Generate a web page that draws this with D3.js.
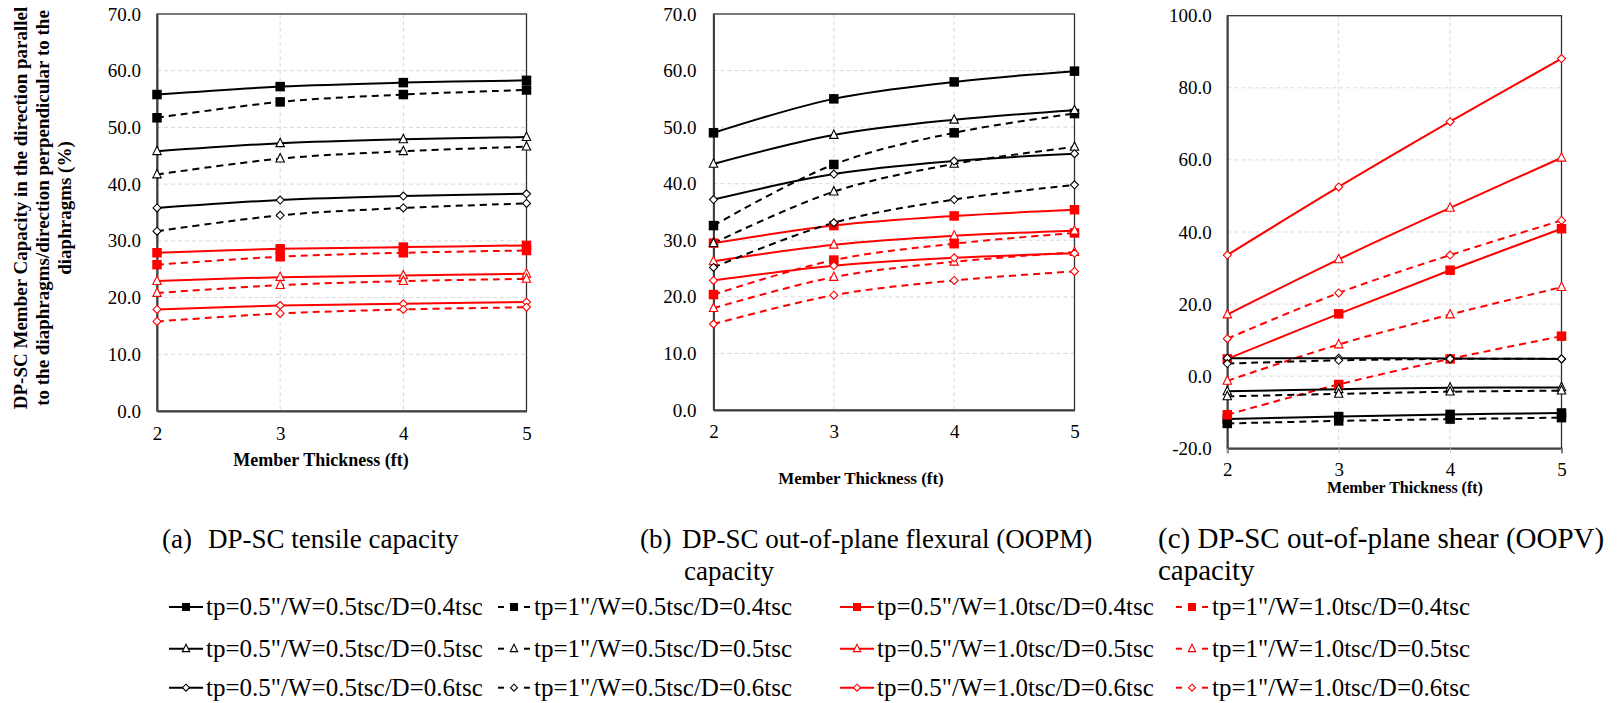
<html>
<head>
<meta charset="utf-8">
<script src="https://cdnjs.cloudflare.com/ajax/libs/d3/7.8.5/d3.min.js"></script>
<style>
body, html {
  margin: 0;
  padding: 0;
  background: white;
  overflow: hidden;
}
text {
  font-family: "Liberation Serif", "Times New Roman", serif;
  fill: black;
}
.grid line {
  stroke: #d9d9d9;
  stroke-dasharray: 4,3;
  stroke-width: 1;
}
</style>
</head>
<body>
<div id="chart"></div>
<script>

// member thickness (ft)
var thickness = [2, 3, 4, 5]

// legend order, row by row
var seriesNames = [
  'tp=0.5"/W=0.5tsc/D=0.4tsc', 'tp=1"/W=0.5tsc/D=0.4tsc', 'tp=0.5"/W=1.0tsc/D=0.4tsc', 'tp=1"/W=1.0tsc/D=0.4tsc',
  'tp=0.5"/W=0.5tsc/D=0.5tsc', 'tp=1"/W=0.5tsc/D=0.5tsc', 'tp=0.5"/W=1.0tsc/D=0.5tsc', 'tp=1"/W=1.0tsc/D=0.5tsc',
  'tp=0.5"/W=0.5tsc/D=0.6tsc', 'tp=1"/W=0.5tsc/D=0.6tsc', 'tp=0.5"/W=1.0tsc/D=0.6tsc', 'tp=1"/W=1.0tsc/D=0.6tsc'
]

// (a) tensile capacity, same order as seriesNames
var tensile = [
  [55.8, 57.2, 57.9, 58.3], [51.7, 54.5, 55.8, 56.6], [27.9, 28.6, 28.9, 29.2], [25.8, 27.2, 27.9, 28.3],
  [45.8, 47.2, 47.9, 48.3], [41.7, 44.5, 45.8, 46.6], [22.9, 23.6, 23.9, 24.2], [20.8, 22.2, 22.9, 23.3],
  [35.8, 37.2, 37.9, 38.3], [31.7, 34.5, 35.8, 36.6], [17.9, 18.6, 18.9, 19.2], [15.8, 17.2, 17.9, 18.3]
]

// (b) out-of-plane flexural capacity
var flexural = [
  [49.0, 55.0, 58.0, 59.9], [32.6, 43.4, 49.0, 52.4], [29.5, 32.6, 34.3, 35.4], [20.4, 26.5, 29.4, 31.3],
  [43.5, 48.6, 51.3, 53.0], [29.5, 38.6, 43.5, 46.5], [26.3, 29.2, 30.8, 31.7], [18.0, 23.5, 26.2, 27.9],
  [37.2, 41.7, 44.0, 45.3], [25.2, 33.1, 37.2, 39.8], [22.9, 25.5, 26.9, 27.7], [15.2, 20.3, 22.9, 24.5]
]

// (c) out-of-plane shear capacity
var shear = [
  [-11.9, -11.2, -10.6, -10.2], [-13.1, -12.4, -11.9, -11.5], [4.8, 17.3, 29.4, 40.9], [-10.7, -2.3, 4.8, 11.1],
  [-4.2, -3.6, -3.2, -3.1], [-5.6, -4.9, -4.3, -4.0], [17.1, 32.4, 46.7, 60.6], [-1.3, 8.8, 17.1, 24.7],
  [5.0, 5.0, 4.9, 4.8], [3.5, 4.4, 4.8, 4.8], [33.6, 52.5, 70.6, 88.1], [10.4, 23.1, 33.6, 43.2]
]

var yTicksAB = [0, 10, 20, 30, 40, 50, 60, 70]
var yTicksC = [-20, 0, 20, 40, 60, 80, 100]

var captions = [
  ["(a)", "DP-SC tensile capacity"],
  ["(b)", "DP-SC out-of-plane flexural (OOPM)", "capacity"],
  ["(c) DP-SC out-of-plane shear (OOPV)", "capacity"]
]

var yTitle = [
  "DP-SC Member Capacity in the direction parallel",
  "to the diaphragms/direction perpendicular to the",
  "diaphragms (%)"
]

// style comes from the series name
function styleOf(name){
  return {
    color: name.indexOf("W=1.0") >= 0 ? "#ff0000" : "#000000",
    dashed: name.indexOf('tp=1"') == 0,
    shape: name.indexOf("D=0.4") >= 0 ? "square" : (name.indexOf("D=0.5") >= 0 ? "triangle" : "diamond")
  }
}

var W = 1623, H = 703
var svg = d3.select("#chart").append("svg")
  .attr("width", W)
  .attr("height", H)

svg.append("rect").attr("width", W).attr("height", H).attr("fill", "white")

function drawMarker(g, st, cx, cy, s){
  if (st.shape == "square"){
    g.append("rect")
      .attr("x", cx - s/2).attr("y", cy - s/2)
      .attr("width", s).attr("height", s)
      .attr("fill", st.color)
  } else if (st.shape == "triangle"){
    var t = s * 1.05
    g.append("path")
      .attr("d", "M" + cx + "," + (cy - t*0.6) + "L" + (cx + t/2) + "," + (cy + t*0.4) + "L" + (cx - t/2) + "," + (cy + t*0.4) + "Z")
      .attr("fill", "white").attr("stroke", st.color).attr("stroke-width", 1.1)
  } else {
    var d = s * 0.5
    g.append("path")
      .attr("d", "M" + cx + "," + (cy - d) + "L" + (cx + d) + "," + cy + "L" + cx + "," + (cy + d) + "L" + (cx - d) + "," + cy + "Z")
      .attr("fill", "white").attr("stroke", st.color).attr("stroke-width", 1.1)
  }
}

var fmt = d3.format(".1f")

var panels = [
  {data: tensile, left: 157, right: 526.5, top: 14, bottom: 411, domain: [0, 70], ticks: yTicksAB,
   titleX: 321, titleY: 466, titleSize: 18, tickGap: 16, xLabelDy: 30},
  {data: flexural, left: 713.5, right: 1074.5, top: 14, bottom: 410, domain: [0, 70], ticks: yTicksAB,
   titleX: 861, titleY: 484, titleSize: 17, tickGap: 17, xLabelDy: 28.5},
  {data: shear, left: 1227.3, right: 1561.5, top: 15.7, bottom: 448.3, domain: [-20, 100], ticks: yTicksC,
   titleX: 1405, titleY: 493, titleSize: 16, tickGap: 15.5, xLabelDy: 28, xTickMarks: true}
]

panels.forEach(function(p){
  var x = d3.scaleLinear().domain([2, 5]).range([p.left, p.right])
  var y = d3.scaleLinear().domain(p.domain).range([p.bottom, p.top])
  var g = svg.append("g")

  // grid
  var grid = g.append("g").attr("class", "grid")
  grid.selectAll(".gy").data(p.ticks.slice(1, -1)).enter().append("line")
    .attr("x1", p.left).attr("x2", p.right)
    .attr("y1", function(d){ return y(d) }).attr("y2", function(d){ return y(d) })
  grid.selectAll(".gx").data(thickness.slice(1, -1)).enter().append("line")
    .attr("y1", p.top).attr("y2", p.bottom)
    .attr("x1", function(d){ return x(d) }).attr("x2", function(d){ return x(d) })

  // frame
  g.append("rect")
    .attr("x", p.left).attr("y", p.top)
    .attr("width", p.right - p.left).attr("height", p.bottom - p.top)
    .attr("fill", "none").attr("stroke", "#333").attr("stroke-width", 1.3)

  var yAxis = d3.axisLeft(y).tickValues(p.ticks).tickSize(0).tickPadding(p.tickGap)
    .tickFormat(function(d){ return fmt(d).replace("\u2212", "-") })
  var ya = g.append("g").attr("transform", "translate(" + p.left + ",0)").call(yAxis)
  ya.select(".domain").attr("stroke", "#404040").attr("stroke-width", 2)
  ya.selectAll("text").style("font-family", "Liberation Serif").style("font-size", "19px").attr("fill", "#000")

  var xAxis = d3.axisBottom(x).tickValues(thickness).tickSize(p.xTickMarks ? 5 : 0).tickPadding(p.xTickMarks ? p.xLabelDy - 19 : p.xLabelDy - 14).tickFormat(d3.format("d"))
  var xa = g.append("g").attr("transform", "translate(0," + p.bottom + ")").call(xAxis)
  xa.select(".domain").attr("stroke", "#404040").attr("stroke-width", 2)
  xa.selectAll("line").attr("stroke", "#bfbfbf")
  xa.selectAll("text").style("font-family", "Liberation Serif").style("font-size", "19px").attr("fill", "#000")

  g.append("text")
    .attr("x", p.titleX).attr("y", p.titleY)
    .attr("text-anchor", "middle")
    .style("font-size", p.titleSize + "px").style("font-weight", "bold")
    .text("Member Thickness (ft)")

  var line = d3.line()
    .curve(d3.curveCatmullRom.alpha(0.5))
    .x(function(d, i){ return x(thickness[i]) })
    .y(function(d){ return y(d) })

  p.data.forEach(function(vals, k){
    var st = styleOf(seriesNames[k])
    g.append("path")
      .attr("d", line(vals))
      .attr("fill", "none")
      .attr("stroke", st.color)
      .attr("stroke-width", 2)
      .attr("stroke-dasharray", st.dashed ? "7,5" : null)
  })
  p.data.forEach(function(vals, k){
    var st = styleOf(seriesNames[k])
    var mg = g.append("g")
    vals.forEach(function(v, i){
      drawMarker(mg, st, x(thickness[i]), y(v), st.shape == "square" ? 9.5 : 8)
    })
  })
})

// y axis title for panel (a)
var yt = svg.append("text")
  .attr("transform", "translate(20,208) rotate(-90)")
  .attr("text-anchor", "middle")
  .style("font-size", "19px").style("font-weight", "bold")
yTitle.forEach(function(t, i){
  yt.append("tspan").attr("x", 0).attr("dy", i == 0 ? "0.35em" : 22).text(t)
})

// captions
var cap = svg.append("g").style("font-size", "27px")
cap.append("text").attr("x", 162).attr("y", 548).text(captions[0][0])
cap.append("text").attr("x", 208).attr("y", 548).text(captions[0][1])
cap.append("text").attr("x", 640).attr("y", 548).text(captions[1][0])
cap.append("text").attr("x", 682).attr("y", 548).text(captions[1][1])
cap.append("text").attr("x", 684).attr("y", 580).text(captions[1][2])
cap.append("text").attr("x", 1158).attr("y", 548).style("font-size", "29px").text(captions[2][0])
cap.append("text").attr("x", 1158).attr("y", 580).style("font-size", "29px").text(captions[2][1])

// legend
var colX = [169, 497, 840, 1175]
var rowY = [615, 656.7, 695.7]
var legend = svg.append("g")
seriesNames.forEach(function(name, k){
  var st = styleOf(name)
  var lx = colX[k % 4], ly = rowY[Math.floor(k / 4)] - 8
  var lg = legend.append("g")
  if (st.dashed){
    lg.append("line").attr("x1", lx + 1).attr("x2", lx + 7).attr("y1", ly).attr("y2", ly)
      .attr("stroke", st.color).attr("stroke-width", 2)
    lg.append("line").attr("x1", lx + 27).attr("x2", lx + 33).attr("y1", ly).attr("y2", ly)
      .attr("stroke", st.color).attr("stroke-width", 2)
  } else {
    lg.append("line").attr("x1", lx).attr("x2", lx + 34).attr("y1", ly).attr("y2", ly)
      .attr("stroke", st.color).attr("stroke-width", 2)
  }
  drawMarker(lg, st, lx + 17, ly, st.shape == "square" ? 8 : 7)
  lg.append("text")
    .attr("x", lx + 37).attr("y", rowY[Math.floor(k / 4)])
    .style("font-size", "25px")
    .text(name)
})

</script>
</body>
</html>
